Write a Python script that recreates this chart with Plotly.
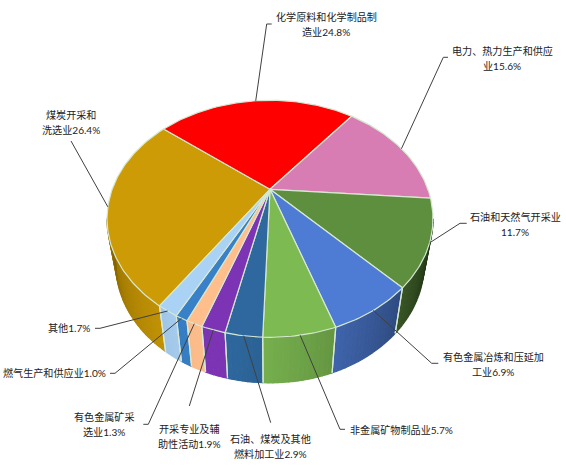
import numpy as np
import plotly.graph_objects as go

# ---------------- data ----------------
categories = ["煤炭开采和洗选业", "化学原料和化学制品制造业", "电力、热力生产和供应业",
              "石油和天然气开采业", "有色金属冶炼和压延加工业", "非金属矿物制品业",
              "石油、煤炭及其他燃料加工业", "开采专业及辅助性活动", "有色金属矿采选业",
              "燃气生产和供应业", "其他"]
shares = [26.4, 24.8, 15.6, 11.7, 6.9, 5.7, 2.9, 1.9, 1.3, 1.0, 1.7]
colors = ["#CD9B05", "#FE0000", "#D87CB4", "#5E8F3E", "#4E7CD4", "#7DBA52",
          "#2E689E", "#7C34B4", "#FFBE8C", "#3880C8", "#AAD2F5"]

# ---------------- layout / style ----------------
W, H = 566, 468
CX, CY = 270.0, 189.3
TILT = np.radians(44.75)
DIST = 2.853
FOCAL = 450.4
WALL_H = 45.5
WALL_SCALE = 0.945
START = 213.7            # first slice start, degrees clockwise from 12 o'clock
EDGE = "rgb(214,232,210)"
FONT = "Lato, 'Noto Sans CJK SC'"
TXT = "#222222"
LEAD = "#404040"
FS = 10.1
LINE_GAP = 15

label_breaks = [5, 10, 10, 9, 10, None, 8, 6, 6, None, None]
label_pos = [(71, 115), (326, 16.7), (502, 50.7), (515, 217.3), (493, 356.7),
             (348.3, 430), (270.5, 439.3), (189, 429.3), (104.3, 417.3),
             (107.5, 373.3), (91.5, 328.3)]
label_anchor = ["center", "center", "center", "center", "center", "left",
                "center", "center", "center", "right", "right"]
leader_elbow = [(71, 141), (266.7, 24), (443.3, 57.3), (460, 223.3), (431.7, 363.3),
                (340, 429.3), (270.7, 422.7), (189.3, 406), (148.3, 424.3),
                (115, 373.3), (100, 328.3)]
leader_tail = [None, (271.7, 24), (448, 57.3), (466.7, 223.3), (438.3, 363.3),
               (345, 429.3), None, None, (143.3, 424.3), (110, 373.3), (95, 328.3)]


def project(phi_deg, r=1.0):
    phi = np.radians(phi_deg)
    X = r * np.sin(phi)
    Z = r * np.cos(phi)
    d = DIST + np.cos(TILT) * Z
    sx = FOCAL * X / d
    sy = FOCAL * np.sin(TILT) * Z / d
    return CX + sx, CY - sy


def wall_bottom(x, y):
    return CX + WALL_SCALE * (x - CX), y + WALL_H


def hex_rgb(h):
    h = h.lstrip("#")
    return [int(h[i:i + 2], 16) for i in (0, 2, 4)]


def shade(phi):
    p = phi % 360
    if p <= 195:
        f = 1 - 0.7 * (max(0.0, 195 - p) / 90) ** 1.3
    else:
        f = 1 - 0.35 * ((p - 195) / 60) ** 1.5
    return max(0.15, min(1.0, f))


def rgb_str(c, f):
    return "rgb(%d,%d,%d)" % tuple(int(round(v * f)) for v in c)


total = sum(shares)
cum = np.concatenate([[0], np.cumsum(shares)])
bounds = START + cum / total * 360.0

sil = np.degrees(np.arccos(-np.cos(TILT) / DIST))
vis_lo, vis_hi = sil, 360 - sil

fig = go.Figure()


def add_poly(xs, ys, fill, line_color, lw):
    fig.add_trace(go.Scatter(x=list(xs), y=list(ys), mode="lines", fill="toself",
                             fillcolor=fill, line=dict(color=line_color, width=lw),
                             hoverinfo="skip", showlegend=False))


# ---- walls (front-facing part) ----
wall_edges = []
for i, (a, b) in enumerate(zip(bounds[:-1], bounds[1:])):
    base = hex_rgb(colors[i])
    for k in (-360, 0, 360):
        lo = max(a, vis_lo + k)
        hi = min(b, vis_hi + k)
        if hi <= lo:
            continue
        n = max(1, int(np.ceil((hi - lo) / 1.5)))
        edges = np.linspace(lo, hi, n + 1)
        for p0, p1 in zip(edges[:-1], edges[1:]):
            ph = np.linspace(p0, p1, 3)
            tx, ty = project(ph)
            bx, by = wall_bottom(tx, ty)
            xs = np.concatenate([tx, bx[::-1]])
            ys = np.concatenate([ty, by[::-1]])
            col = rgb_str(base, shade((p0 + p1) / 2))
            add_poly(xs, ys, col, col, 1.4)
        for e in (a, b):
            if lo <= e <= hi and vis_lo + k < e < vis_hi + k:
                wall_edges.append(e)

# slice boundary lines on the wall
for e in wall_edges:
    tx, ty = project(e)
    bx, by = wall_bottom(tx, ty)
    fig.add_trace(go.Scatter(x=[tx, bx], y=[ty, by], mode="lines",
                             line=dict(color=EDGE, width=1.2),
                             hoverinfo="skip", showlegend=False))

# ---- top faces ----
for i, (a, b) in enumerate(zip(bounds[:-1], bounds[1:])):
    n = max(2, int(np.ceil((b - a) / 1.0)) + 1)
    ph = np.linspace(a, b, n)
    rx, ry = project(ph)
    xs = np.concatenate([[CX], rx, [CX]])
    ys = np.concatenate([[CY], ry, [CY]])
    add_poly(xs, ys, colors[i], EDGE, 1.2)

# ---- leader lines & labels ----
annotations = []
for i, name in enumerate(categories):
    mid = (bounds[i] + bounds[i + 1]) / 2
    ax0, ay0 = project(mid)
    ex, ey = leader_elbow[i]
    lx, ly = [ax0, ex], [ay0, ey]
    if leader_tail[i] is not None:
        lx.append(leader_tail[i][0])
        ly.append(leader_tail[i][1])
    fig.add_trace(go.Scatter(x=lx, y=ly, mode="lines",
                             line=dict(color=LEAD, width=1),
                             hoverinfo="skip", showlegend=False))

    full = "%s%.1f%%" % (name, shares[i])
    br = label_breaks[i]
    lines = [full] if br is None else [full[:br], full[br:]]
    x0, y0 = label_pos[i]
    for j, t in enumerate(lines):
        annotations.append(dict(x=x0, y=y0 + j * LINE_GAP, text=t, showarrow=False,
                                xanchor=label_anchor[i], yanchor="middle",
                                font=dict(family=FONT, size=FS, color=TXT)))

fig.update_layout(
    width=W, height=H,
    margin=dict(l=0, r=0, t=0, b=0),
    paper_bgcolor="white", plot_bgcolor="white",
    xaxis=dict(range=[0, W], visible=False, fixedrange=True),
    yaxis=dict(range=[H, 0], visible=False, fixedrange=True),
    annotations=annotations,
    showlegend=False,
)

fig.write_html("out.html",
               config={"displayModeBar": False, "staticPlot": True},
               post_script="document.body.style.margin='0px';"
                           "document.body.style.overflow='hidden';")
